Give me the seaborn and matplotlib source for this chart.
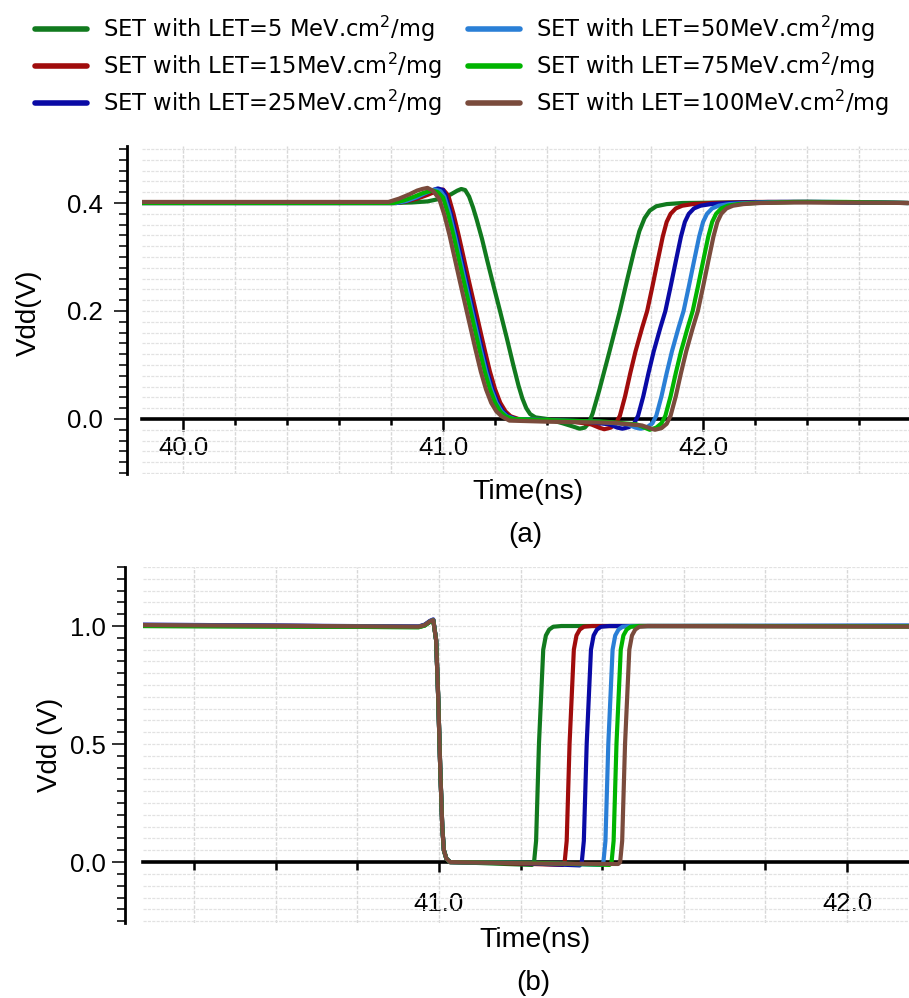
import matplotlib
matplotlib.use("Agg")
import matplotlib.pyplot as plt
import seaborn as sns
import pandas as pd
from matplotlib.lines import Line2D
from matplotlib.ticker import MultipleLocator, FormatStrFormatter

# ---------------- data ----------------
series_labels = [
    "SET with LET=5 MeV.cm$^2$/mg",
    "SET with LET=15MeV.cm$^2$/mg",
    "SET with LET=25MeV.cm$^2$/mg",
    "SET with LET=50MeV.cm$^2$/mg",
    "SET with LET=75MeV.cm$^2$/mg",
    "SET with LET=100MeV.cm$^2$/mg",
]
series_colors = ["#117a1e", "#a00c0c", "#0a0aa5", "#2a7fd6", "#00b400", "#7a4b3c"]

# Panel (a): time (ns) and voltage (V)
a_t_5 = [39.84, 40.80, 40.88, 40.94, 40.99, 41.03, 41.055, 41.07, 41.085, 41.10, 41.115, 41.13, 41.15, 41.17, 41.195,
         41.22, 41.245, 41.27, 41.29, 41.305, 41.32, 41.335, 41.355, 41.40, 41.46, 41.50, 41.525, 41.545, 41.56, 41.575,
         41.60, 41.64, 41.68, 41.71, 41.735, 41.755, 41.775, 41.795, 41.82, 41.86, 41.92, 42.10, 42.40, 42.79]
a_v_5 = [0.400, 0.400, 0.401, 0.403, 0.408, 0.416, 0.423, 0.426, 0.424, 0.412, 0.392, 0.368, 0.333, 0.293, 0.245,
         0.198, 0.150, 0.100, 0.062, 0.038, 0.020, 0.009, 0.003, 0.000, -0.008, -0.014, -0.018, -0.016, -0.008, 0.010,
         0.052, 0.125, 0.200, 0.262, 0.312, 0.348, 0.372, 0.386, 0.394, 0.398, 0.400, 0.401, 0.402, 0.400]

a_t_15 = [39.84, 40.82, 40.86, 40.90, 40.94, 40.97, 40.99, 41.00, 41.02, 41.04, 41.06, 41.08, 41.10, 41.12, 41.14,
          41.16, 41.18, 41.20, 41.22, 41.24, 41.26, 41.29, 41.40, 41.50, 41.57, 41.60, 41.62, 41.645, 41.665, 41.68,
          41.70, 41.72, 41.74, 41.765, 41.785, 41.805, 41.825, 41.845, 41.86, 41.875, 41.895, 41.92, 41.96, 42.03,
          42.20, 42.40, 42.79]
a_v_15 = [0.400, 0.400, 0.403, 0.408, 0.415, 0.421, 0.424, 0.425, 0.414, 0.380, 0.340, 0.297, 0.254, 0.212, 0.170,
          0.128, 0.088, 0.055, 0.030, 0.014, 0.005, 0.000, -0.002, -0.005, -0.010, -0.016, -0.019, -0.016, -0.008, 0.006,
          0.042, 0.085, 0.125, 0.168, 0.200, 0.245, 0.292, 0.338, 0.365, 0.380, 0.390, 0.395, 0.398, 0.400,
          0.402, 0.402, 0.400]

a_t_25 = [39.84, 40.82, 40.86, 40.90, 40.93, 40.96, 40.98, 41.00, 41.01, 41.03, 41.05, 41.07, 41.09, 41.11, 41.13,
          41.15, 41.17, 41.19, 41.21, 41.23, 41.25, 41.28, 41.40, 41.55, 41.64, 41.67, 41.69, 41.715, 41.735, 41.75,
          41.77, 41.79, 41.81, 41.835, 41.855, 41.875, 41.895, 41.915, 41.93, 41.945, 41.965, 41.99, 42.03, 42.10,
          42.25, 42.45, 42.79]
a_v_25 = [0.400, 0.400, 0.404, 0.411, 0.418, 0.424, 0.427, 0.424, 0.414, 0.380, 0.340, 0.297, 0.254, 0.212, 0.170,
          0.128, 0.088, 0.055, 0.030, 0.014, 0.005, 0.000, -0.002, -0.005, -0.010, -0.016, -0.018, -0.015, -0.008, 0.006,
          0.042, 0.085, 0.125, 0.168, 0.200, 0.245, 0.292, 0.338, 0.365, 0.380, 0.390, 0.395, 0.398, 0.400,
          0.402, 0.402, 0.400]

a_t_50 = [39.84, 40.82, 40.86, 40.90, 40.93, 40.95, 40.97, 40.99, 41.005, 41.025, 41.045, 41.065, 41.085, 41.105, 41.125,
          41.145, 41.165, 41.185, 41.205, 41.225, 41.245, 41.275, 41.40, 41.60, 41.71, 41.74, 41.76, 41.785, 41.805, 41.82,
          41.84, 41.86, 41.88, 41.905, 41.925, 41.945, 41.965, 41.985, 42.00, 42.015, 42.035, 42.06, 42.10, 42.17,
          42.30, 42.50, 42.79]
a_v_50 = [0.400, 0.400, 0.404, 0.411, 0.418, 0.422, 0.425, 0.422, 0.412, 0.380, 0.340, 0.297, 0.254, 0.212, 0.170,
          0.128, 0.088, 0.055, 0.030, 0.014, 0.005, 0.000, -0.002, -0.005, -0.010, -0.016, -0.018, -0.015, -0.008, 0.006,
          0.042, 0.085, 0.125, 0.168, 0.200, 0.245, 0.292, 0.338, 0.365, 0.380, 0.390, 0.395, 0.398, 0.400,
          0.402, 0.402, 0.400]

a_t_75 = [39.84, 40.81, 40.85, 40.89, 40.92, 40.94, 40.96, 40.98, 41.00, 41.02, 41.04, 41.06, 41.08, 41.10, 41.12,
          41.14, 41.16, 41.18, 41.20, 41.22, 41.24, 41.27, 41.40, 41.62, 41.745, 41.775, 41.795, 41.82, 41.84, 41.855,
          41.875, 41.895, 41.915, 41.94, 41.96, 41.98, 42.00, 42.02, 42.035, 42.05, 42.07, 42.095, 42.135, 42.20,
          42.35, 42.55, 42.79]
a_v_75 = [0.400, 0.400, 0.405, 0.412, 0.418, 0.421, 0.423, 0.420, 0.410, 0.378, 0.340, 0.297, 0.254, 0.212, 0.170,
          0.128, 0.088, 0.055, 0.030, 0.014, 0.005, 0.000, -0.002, -0.005, -0.010, -0.016, -0.020, -0.016, -0.008, 0.006,
          0.042, 0.085, 0.125, 0.168, 0.200, 0.245, 0.292, 0.338, 0.365, 0.380, 0.390, 0.395, 0.398, 0.400,
          0.402, 0.402, 0.400]

a_t_100 = [39.84, 40.79, 40.83, 40.87, 40.90, 40.92, 40.94, 40.96, 40.985, 41.005, 41.025, 41.045, 41.065, 41.085, 41.105,
           41.125, 41.145, 41.165, 41.185, 41.205, 41.225, 41.255, 41.40, 41.65, 41.765, 41.795, 41.815, 41.84, 41.86, 41.875,
           41.895, 41.915, 41.935, 41.96, 41.98, 42.00, 42.02, 42.04, 42.055, 42.07, 42.09, 42.115, 42.155, 42.22,
           42.35, 42.55, 42.79]
a_v_100 = [0.402, 0.402, 0.408, 0.416, 0.423, 0.426, 0.428, 0.423, 0.408, 0.378, 0.340, 0.297, 0.254, 0.212, 0.170,
           0.128, 0.088, 0.055, 0.030, 0.014, 0.005, -0.003, -0.005, -0.007, -0.012, -0.017, -0.020, -0.017, -0.009, 0.006,
           0.042, 0.085, 0.125, 0.168, 0.200, 0.245, 0.292, 0.338, 0.365, 0.380, 0.390, 0.395, 0.398, 0.400,
           0.401, 0.401, 0.400]

# Panel (b)
b_t_5 = [40.275, 40.60, 40.95, 40.965, 40.978, 40.986, 40.993, 40.998, 41.003, 41.008, 41.012, 41.018, 41.027, 41.10,
         41.228, 41.233, 41.238, 41.245, 41.2555, 41.262, 41.27, 41.28, 41.30, 41.70, 42.152]
b_v_5 = [1.000, 0.998, 0.995, 1.002, 1.018, 1.025, 0.940, 0.700, 0.400, 0.150, 0.050, 0.015, 0.000, -0.004,
         -0.012, 0.000, 0.090, 0.500, 0.900, 0.960, 0.985, 0.997, 1.000, 1.000, 0.998]

b_t_15 = [40.275, 40.60, 40.95, 40.965, 40.978, 40.986, 40.993, 40.998, 41.003, 41.008, 41.012, 41.018, 41.027, 41.15,
          41.303, 41.308, 41.313, 41.320, 41.3305, 41.337, 41.345, 41.355, 41.375, 41.70, 42.152]
b_v_15 = [1.004, 1.001, 0.997, 1.004, 1.019, 1.025, 0.940, 0.700, 0.400, 0.150, 0.050, 0.015, 0.000, -0.004,
          -0.012, 0.000, 0.090, 0.500, 0.900, 0.960, 0.985, 0.997, 1.000, 1.000, 0.999]

b_t_25 = [40.275, 40.60, 40.95, 40.965, 40.978, 40.986, 40.993, 40.998, 41.003, 41.008, 41.012, 41.018, 41.027, 41.20,
          41.345, 41.350, 41.355, 41.362, 41.3725, 41.379, 41.387, 41.397, 41.417, 41.70, 42.152]
b_v_25 = [1.006, 1.002, 0.998, 1.006, 1.022, 1.028, 0.940, 0.700, 0.400, 0.150, 0.050, 0.015, 0.000, -0.004,
          -0.014, 0.000, 0.090, 0.500, 0.900, 0.960, 0.985, 0.997, 1.000, 1.000, 1.001]

b_t_50 = [40.275, 40.60, 40.95, 40.965, 40.978, 40.986, 40.993, 40.998, 41.003, 41.008, 41.012, 41.018, 41.027, 41.25,
          41.398, 41.403, 41.408, 41.415, 41.4255, 41.432, 41.440, 41.450, 41.470, 41.75, 42.152]
b_v_50 = [1.004, 1.001, 0.997, 1.004, 1.020, 1.026, 0.940, 0.700, 0.400, 0.150, 0.050, 0.015, 0.000, -0.004,
          -0.012, 0.000, 0.090, 0.500, 0.900, 0.960, 0.985, 0.997, 1.000, 1.001, 1.002]

b_t_75 = [40.275, 40.60, 40.95, 40.965, 40.978, 40.986, 40.993, 40.998, 41.003, 41.008, 41.012, 41.018, 41.027, 41.25,
          41.418, 41.423, 41.428, 41.435, 41.4455, 41.452, 41.460, 41.470, 41.490, 41.75, 42.152]
b_v_75 = [1.000, 0.998, 0.995, 1.002, 1.018, 1.024, 0.940, 0.700, 0.400, 0.150, 0.050, 0.015, 0.000, -0.004,
          -0.012, 0.000, 0.090, 0.500, 0.900, 0.960, 0.985, 0.997, 1.000, 1.000, 0.999]

b_t_100 = [40.275, 40.60, 40.95, 40.965, 40.978, 40.986, 40.993, 40.998, 41.003, 41.008, 41.012, 41.018, 41.027, 41.25,
           41.439, 41.444, 41.449, 41.456, 41.4665, 41.473, 41.481, 41.491, 41.511, 41.75, 42.152]
b_v_100 = [1.004, 1.001, 0.997, 1.004, 1.020, 1.025, 0.940, 0.700, 0.400, 0.150, 0.050, 0.015, 0.000, -0.006,
           -0.008, 0.000, 0.090, 0.500, 0.900, 0.960, 0.985, 0.997, 1.000, 0.999, 0.998]

a_times = [a_t_5, a_t_15, a_t_25, a_t_50, a_t_75, a_t_100]
a_volts = [a_v_5, a_v_15, a_v_25, a_v_50, a_v_75, a_v_100]
b_times = [b_t_5, b_t_15, b_t_25, b_t_50, b_t_75, b_t_100]
b_volts = [b_v_5, b_v_15, b_v_25, b_v_50, b_v_75, b_v_100]


def build_df(times, volts):
    frames = []
    for lab, t, v in zip(series_labels, times, volts):
        frames.append(pd.DataFrame({"t": t, "V": v, "series": lab}))
    return pd.concat(frames, ignore_index=True)


dfA = build_df(a_times, a_volts)
dfB = build_df(b_times, b_volts)
palette = dict(zip(series_labels, series_colors))

# ---------------- style ----------------
sns.set_style("white")
plt.rcParams["font.family"] = ["Liberation Sans", "DejaVu Sans"]
for k in ("text.color", "axes.labelcolor", "xtick.color", "ytick.color"):
    plt.rcParams[k] = "black"

W, H = 909, 998
fig = plt.figure(figsize=(W / 100, H / 100), dpi=100)
axA = fig.add_axes([142 / W, 1 - 474 / H, 767 / W, 328 / H])
axB = fig.add_axes([143 / W, 1 - 923 / H, 766 / W, 356 / H])

for ax, df in ((axA, dfA), (axB, dfB)):
    sns.lineplot(data=df, x="t", y="V", hue="series", hue_order=series_labels,
                 palette=palette, sort=False, estimator=None, linewidth=3.0,
                 legend=False, ax=ax, zorder=3)


def style_axis(ax, xlim, ylim, ymajor, yminor, left_out, xlab_pad, ylab_pad,
               xmaj_len, xmin_len):
    ax.set_xlim(*xlim)
    ax.set_ylim(*ylim)
    ax.xaxis.set_major_locator(MultipleLocator(1.0))
    ax.xaxis.set_minor_locator(MultipleLocator(0.2))
    ax.xaxis.set_major_formatter(FormatStrFormatter("%.1f"))
    ax.yaxis.set_major_locator(MultipleLocator(ymajor))
    ax.yaxis.set_minor_locator(MultipleLocator(yminor))
    ax.yaxis.set_major_formatter(FormatStrFormatter("%.1f"))
    ax.grid(which="both", axis="y", color="#e2e2e2", linewidth=0.9, linestyle=(0, (2.5, 1)), zorder=0)
    ax.grid(which="both", axis="x", color="#d8d8d8", linewidth=1.0, linestyle=(0, (2.5, 1)), zorder=0)
    ax.set_axisbelow(True)
    for s in ("top", "right"):
        ax.spines[s].set_visible(False)
    ax.spines["bottom"].set_position(("data", 0))
    ax.spines["bottom"].set_linewidth(2.6)
    ax.spines["bottom"].set_color("black")
    ax.spines["bottom"].set_zorder(2)
    ax.spines["left"].set_position(("outward", left_out))
    ax.spines["left"].set_linewidth(2.0)
    ax.spines["left"].set_color("black")
    ax.tick_params(axis="x", which="major", direction="out", length=xmaj_len, width=1.8,
                   color="black", labelsize=18.5, pad=xlab_pad, bottom=True)
    ax.tick_params(axis="x", which="minor", direction="out", length=xmin_len, width=1.8,
                   color="black", bottom=True)
    ax.tick_params(axis="y", which="major", direction="out", length=9.5, width=1.4,
                   color="#333333", labelsize=18.5, pad=ylab_pad, left=True)
    ax.tick_params(axis="y", which="minor", direction="out", length=5.5, width=1.4,
                   color="#333333", left=True)


style_axis(axA, (39.842, 42.792), (-0.1019, 0.5056), 0.2, 0.02, 11, 3.5, 8, 8.5, 4.5)
style_axis(axB, (40.2745, 42.152), (-0.258, 1.25), 0.5, 0.05, 13, 14, 4, 7.5, 6)

axA.set_xlabel("Time(ns)", fontsize=20.5, va="center")
axA.xaxis.set_label_coords(0.503, -0.055)
axA.set_ylabel("Vdd(V)", fontsize=20, va="center")
axA.yaxis.set_label_coords(-0.1473, 0.491)

axB.set_xlabel("Time(ns)", fontsize=20.5, va="center")
axB.xaxis.set_label_coords(0.512, -0.048)
axB.set_ylabel("Vdd (V)", fontsize=20, va="center")
axB.yaxis.set_label_coords(-0.1214, 0.50)

fig.text(525 / W, 1 - 535 / H, "(a)", fontsize=20, ha="center", va="center")
fig.text(533 / W, 1 - 983 / H, "(b)", fontsize=20, ha="center", va="center")

# ---------------- legend ----------------
handles = [Line2D([], [], color=c, linewidth=4) for c in series_colors]
leg_kw = dict(frameon=False, handlelength=2.3, handletextpad=0.71,
              borderpad=0, borderaxespad=0, labelspacing=0.29,
              prop={"family": "DejaVu Sans", "size": 16.3})
leg1 = fig.legend(handles[:3], series_labels[:3], loc="upper left",
                  bbox_to_anchor=(35 / W, 1 - 14 / H), **leg_kw)
leg2 = fig.legend(handles[3:], series_labels[3:], loc="upper left",
                  bbox_to_anchor=(468 / W, 1 - 14 / H), **leg_kw)

fig.savefig("out.png", dpi=100)
